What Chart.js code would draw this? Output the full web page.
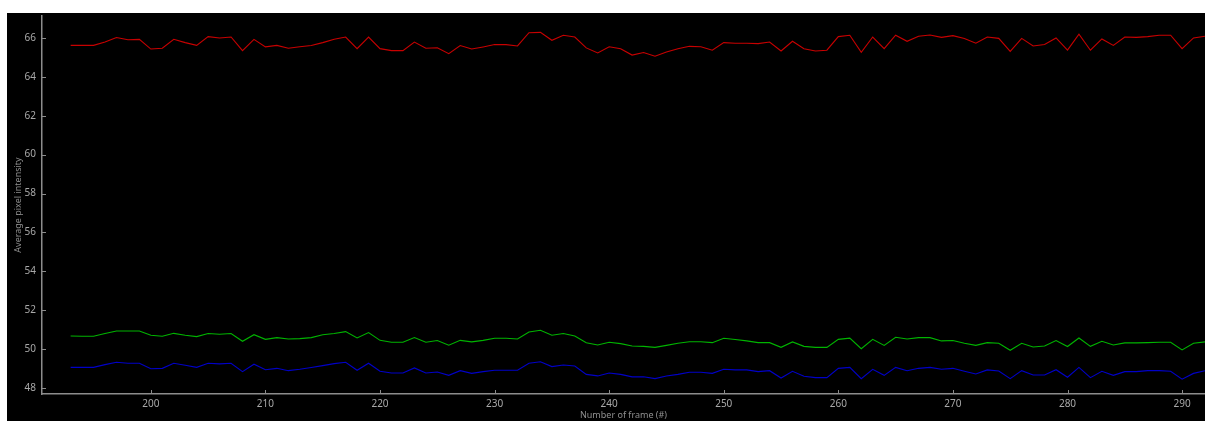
<!DOCTYPE html>
<html>
<head>
<meta charset="utf-8">
<script src="https://cdn.jsdelivr.net/npm/chart.js@4/dist/chart.umd.min.js"></script>
<style>
  html, body { margin: 0; padding: 0; background: #ffffff; }
  body { width: 1205px; height: 421px; position: relative; overflow: hidden; }
  #wrap { position: absolute; left: 7px; top: 13px; width: 1198px; height: 408px; background: #000000; }
</style>
</head>
<body>
<div id="wrap"><canvas id="chart"></canvas></div>
<script>
// Frame numbers
const frames = [
  193, 194, 195, 196, 197, 198, 199, 200, 201, 202,
  203, 204, 205, 206, 207, 208, 209, 210, 211, 212,
  213, 214, 215, 216, 217, 218, 219, 220, 221, 222,
  223, 224, 225, 226, 227, 228, 229, 230, 231, 232,
  233, 234, 235, 236, 237, 238, 239, 240, 241, 242,
  243, 244, 245, 246, 247, 248, 249, 250, 251, 252,
  253, 254, 255, 256, 257, 258, 259, 260, 261, 262,
  263, 264, 265, 266, 267, 268, 269, 270, 271, 272,
  273, 274, 275, 276, 277, 278, 279, 280, 281, 282,
  283, 284, 285, 286, 287, 288, 289, 290, 291, 292
];

// Average intensity of the red channel per frame
const redValues = [
  65.62, 65.62, 65.62, 65.79, 66.02, 65.91, 65.93, 65.43, 65.47, 65.93,
  65.76, 65.62, 66.07, 66.00, 66.05, 65.35, 65.93, 65.54, 65.62, 65.47,
  65.55, 65.61, 65.76, 65.93, 66.05, 65.45, 66.05, 65.45, 65.35, 65.35,
  65.79, 65.47, 65.50, 65.19, 65.61, 65.43, 65.54, 65.66, 65.66, 65.59,
  66.27, 66.29, 65.88, 66.14, 66.05, 65.49, 65.23, 65.55, 65.45, 65.12,
  65.25, 65.06, 65.28, 65.45, 65.57, 65.55, 65.37, 65.76, 65.73, 65.73,
  65.71, 65.79, 65.33, 65.83, 65.45, 65.33, 65.37, 66.07, 66.14, 65.26,
  66.05, 65.45, 66.14, 65.83, 66.09, 66.15, 66.03, 66.12, 65.97, 65.73,
  66.05, 65.98, 65.31, 65.98, 65.59, 65.66, 66.00, 65.38, 66.19, 65.37,
  65.95, 65.62, 66.05, 66.03, 66.07, 66.14, 66.14, 65.45, 66.00, 66.09
];

// Average intensity of the green channel per frame
const greenValues = [
  50.67, 50.66, 50.66, 50.80, 50.93, 50.93, 50.93, 50.71, 50.66, 50.81,
  50.71, 50.64, 50.80, 50.76, 50.80, 50.40, 50.74, 50.50, 50.59, 50.52,
  50.54, 50.59, 50.74, 50.80, 50.90, 50.57, 50.85, 50.45, 50.35, 50.35,
  50.59, 50.35, 50.44, 50.20, 50.45, 50.37, 50.45, 50.56, 50.56, 50.52,
  50.88, 50.97, 50.71, 50.80, 50.67, 50.33, 50.21, 50.35, 50.28, 50.16,
  50.14, 50.09, 50.19, 50.30, 50.38, 50.38, 50.33, 50.56, 50.49, 50.42,
  50.33, 50.33, 50.09, 50.37, 50.14, 50.09, 50.09, 50.50, 50.56, 50.02,
  50.50, 50.19, 50.61, 50.52, 50.59, 50.59, 50.42, 50.44, 50.30, 50.19,
  50.33, 50.30, 49.94, 50.30, 50.11, 50.16, 50.44, 50.13, 50.57, 50.14,
  50.40, 50.21, 50.32, 50.32, 50.33, 50.35, 50.35, 49.96, 50.30, 50.37
];

// Average intensity of the blue channel per frame
const blueValues = [
  49.06, 49.06, 49.06, 49.20, 49.32, 49.27, 49.27, 48.99, 49.01, 49.27,
  49.17, 49.06, 49.27, 49.24, 49.27, 48.84, 49.22, 48.94, 49.01, 48.89,
  48.96, 49.05, 49.15, 49.25, 49.32, 48.91, 49.27, 48.86, 48.77, 48.77,
  49.03, 48.77, 48.82, 48.65, 48.89, 48.75, 48.84, 48.91, 48.91, 48.91,
  49.27, 49.35, 49.10, 49.18, 49.13, 48.70, 48.62, 48.77, 48.70, 48.57,
  48.58, 48.48, 48.62, 48.70, 48.81, 48.81, 48.75, 48.96, 48.93, 48.93,
  48.84, 48.89, 48.51, 48.86, 48.60, 48.53, 48.53, 49.01, 49.06, 48.48,
  48.96, 48.65, 49.06, 48.89, 49.01, 49.06, 48.96, 49.01, 48.86, 48.72,
  48.93, 48.87, 48.48, 48.89, 48.67, 48.67, 48.94, 48.55, 49.06, 48.53,
  48.86, 48.65, 48.84, 48.84, 48.89, 48.89, 48.86, 48.45, 48.75, 48.89
];

// Tick labels shown on each axis
const xTickValues = [200, 210, 220, 230, 240, 250, 260, 270, 280, 290];
const yTickValues = [48, 50, 52, 54, 56, 58, 60, 62, 64, 66];

const xTitle = 'Number of frame (#)';
const yTitle = 'Average pixel intensity';

function points(values) {
  return frames.map((f, i) => ({ x: f, y: values[i] }));
}

const axisColor = '#8c8c8c';
const tickColor = '#a8a8a8';
const titleColor = '#8f8f8f';
const fontFamily = '"Noto Sans", "Liberation Sans", sans-serif';

// Short tick marks pointing into the plot area
const innerTicks = {
  id: 'innerTicks',
  afterDraw(chart) {
    const { ctx, chartArea, scales } = chart;
    ctx.save();
    ctx.strokeStyle = axisColor;
    ctx.lineWidth = 1;
    ctx.beginPath();
    scales.x.ticks.forEach(t => {
      const px = Math.round(scales.x.getPixelForValue(t.value)) + 0.5;
      ctx.moveTo(px, chartArea.bottom);
      ctx.lineTo(px, chartArea.bottom - 4);
    });
    scales.y.ticks.forEach(t => {
      const py = Math.round(scales.y.getPixelForValue(t.value)) + 0.5;
      ctx.moveTo(chartArea.left, py);
      ctx.lineTo(chartArea.left + 4, py);
    });
    ctx.stroke();
    ctx.restore();
  }
};

function series(label, values, color) {
  return {
    label,
    data: points(values),
    borderColor: color,
    backgroundColor: color,
    borderWidth: 1.1,
    pointRadius: 0,
    tension: 0,
    fill: false
  };
}

new Chart(document.getElementById('chart'), {
  type: 'line',
  data: {
    datasets: [
      series('R', redValues, '#c80000'),
      series('G', greenValues, '#00b400'),
      series('B', blueValues, '#0000c8')
    ]
  },
  options: {
    responsive: true,
    maintainAspectRatio: false,
    animation: false,
    events: [],
    layout: { padding: { top: 3, right: 0, bottom: 0, left: 0 } },
    plugins: { legend: { display: false }, tooltip: { enabled: false } },
    scales: {
      x: {
        type: 'linear',
        min: 190.5,
        max: 292,
        afterBuildTicks(scale) { scale.ticks = xTickValues.map(v => ({ value: v })); },
        afterFit(scale) {
          scale.height = 27;
          scale.paddingLeft = 0;
          scale.paddingRight = 0;
        },
        grid: { display: false, drawTicks: false },
        border: { display: true, color: axisColor, width: 1.5 },
        ticks: {
          color: tickColor,
          padding: 4,
          maxRotation: 0,
          autoSkip: false,
          font: { family: fontFamily, size: 10 },
          callback: v => String(v)
        },
        title: {
          display: true,
          text: xTitle,
          color: titleColor,
          padding: { top: 3, bottom: 0 },
          font: { family: fontFamily, size: 9 }
        }
      },
      y: {
        type: 'linear',
        min: 47.69,
        max: 67.13,
        afterBuildTicks(scale) { scale.ticks = yTickValues.map(v => ({ value: v })); },
        afterFit(scale) {
          scale.width = 35;
          scale.paddingTop = 0;
          scale.paddingBottom = 0;
        },
        grid: { display: false, drawTicks: false },
        border: { display: true, color: axisColor, width: 1.5 },
        ticks: {
          color: tickColor,
          padding: 6,
          autoSkip: false,
          font: { family: fontFamily, size: 10 },
          callback: v => String(v)
        },
        title: {
          display: true,
          text: yTitle,
          color: titleColor,
          padding: { top: 6, bottom: 0 },
          font: { family: fontFamily, size: 9 }
        }
      }
    }
  },
  plugins: [innerTicks]
});
</script>
</body>
</html>
